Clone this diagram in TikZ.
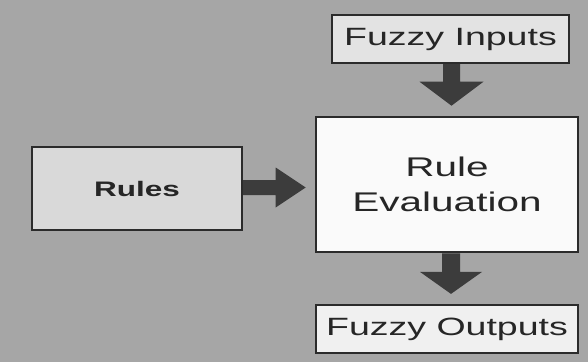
\documentclass[tikz,border=0pt]{standalone}
\usepackage{fontspec}
\usetikzlibrary{calc}
\newfontfamily\widesans[FakeStretch=1.5]{Liberation Sans}

\definecolor{bggray}{HTML}{A6A6A6}
\definecolor{edgegray}{HTML}{2B2B2B}
\definecolor{inkgray}{HTML}{262626}
\definecolor{arrowgray}{HTML}{3C3C3C}

\tikzset{
  box/.style={draw=edgegray, line width=2.2pt, text=inkgray, inner sep=0pt,
    font=\widesans, align=center},
  blockarrow/.style={fill=arrowgray}
}

\begin{document}
\begin{tikzpicture}[x=1pt, y=-1pt]
  % canvas
  \fill[bggray] (0,0) rectangle (588,362);
  \useasboundingbox (0,0) rectangle (588,362);

  % boxes
  \node[box, fill=gray!22, minimum width=237pt, minimum height=48pt,
        font=\widesans\fontsize{25}{30}\selectfont] (inputs) at (450.5,39) {Fuzzy Inputs};
  \node[box, fill=gray!4, line width=2.6pt, minimum width=262pt, minimum height=135pt,
        font=\widesans\fontsize{27}{35}\selectfont] (eval) at (447,184.5) {Rule\\Evaluation};
  \node[box, fill=gray!30, minimum width=210pt, minimum height=83pt,
        font=\widesans\bfseries\fontsize{21}{25}\selectfont] (rules) at (137,188.5) {Rules};
  \node[box, fill=gray!12, minimum width=262pt, minimum height=48pt,
        font=\widesans\fontsize{25}{30}\selectfont] (outputs) at (447,329) {Fuzzy Outputs};

  % Fuzzy Inputs -> Rule Evaluation
  \fill[blockarrow] let \p1=($(inputs.south)+(1,0)$), \p2=($(eval.north)+(0,-10)$) in
    (\x1-8.5pt,\y1) -- (\x1-8.5pt,\y2+24pt) -- (\x1-32pt,\y2+24pt) -- (\x1,\y2)
    -- (\x1+32pt,\y2+24pt) -- (\x1+8.5pt,\y2+24pt) -- (\x1+8.5pt,\y1) -- cycle;

  % Rules -> Rule Evaluation
  \fill[blockarrow] let \p1=($(rules.east)+(0,-1)$), \p2=($(eval.west)+(-9,0)$) in
    (\x1,\y1+7.5pt) -- (\x2-30pt,\y1+7.5pt) -- (\x2-30pt,\y1+20pt) -- (\x2,\y1)
    -- (\x2-30pt,\y1-20pt) -- (\x2-30pt,\y1-7.5pt) -- (\x1,\y1-7.5pt) -- cycle;

  % Rule Evaluation -> Fuzzy Outputs
  \fill[blockarrow] let \p1=($(eval.south)+(4,0)$), \p2=($(outputs.north)+(0,-10)$) in
    (\x1-9pt,\y1) -- (\x1-9pt,\y2+22pt) -- (\x1-31pt,\y2+22pt) -- (\x1,\y2)
    -- (\x1+31pt,\y2+22pt) -- (\x1+9pt,\y2+22pt) -- (\x1+9pt,\y1) -- cycle;
\end{tikzpicture}
\end{document}
